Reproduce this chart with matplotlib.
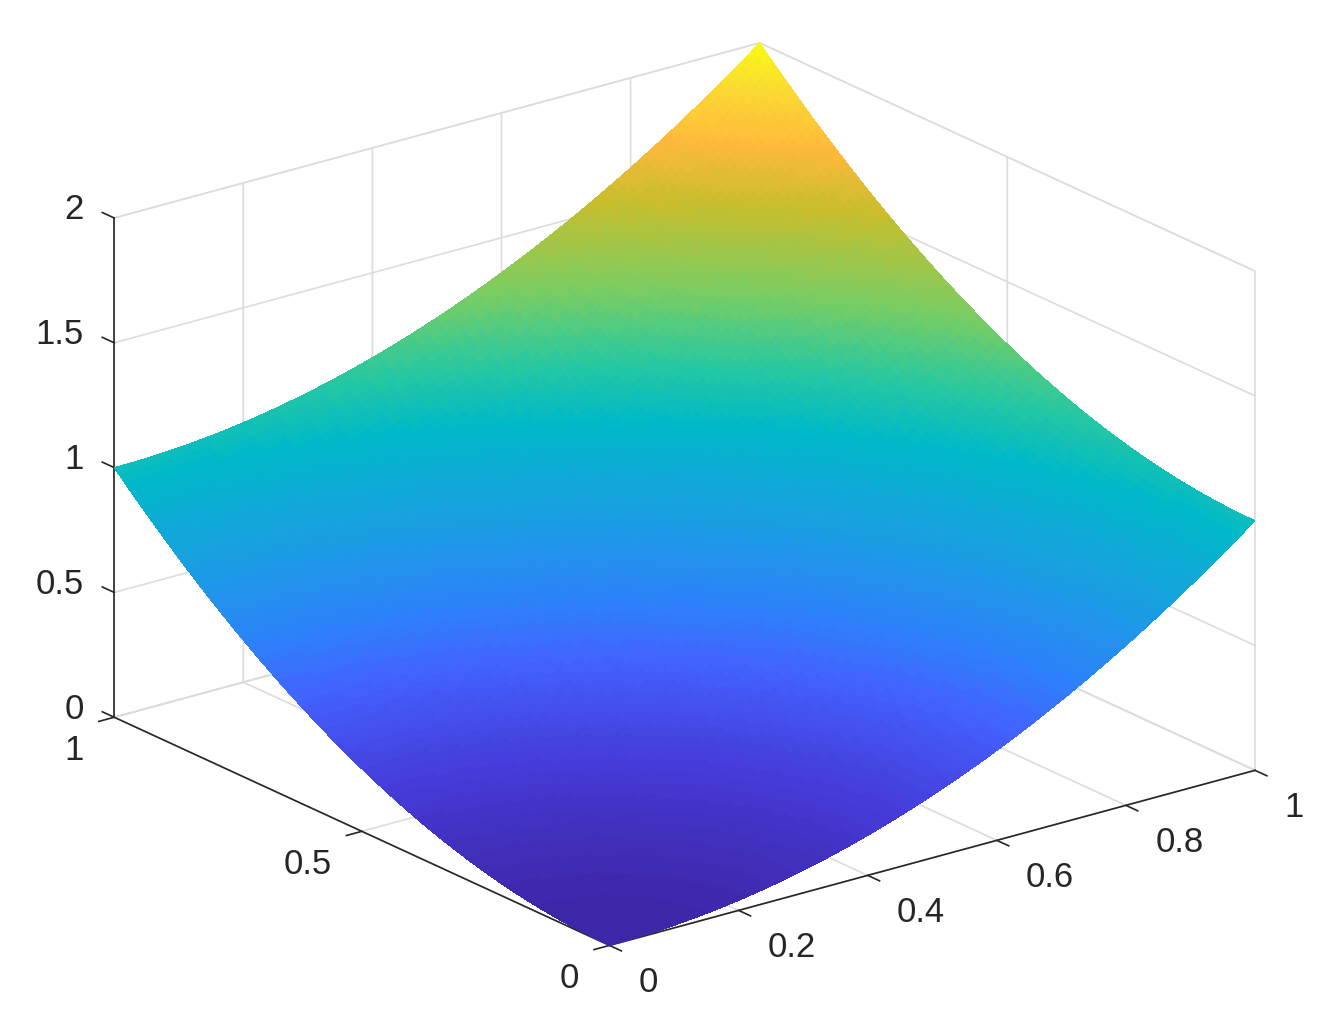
import numpy as np
import matplotlib
matplotlib.use('Agg')
import matplotlib.pyplot as plt
from matplotlib.colors import LinearSegmentedColormap
from matplotlib.transforms import Affine2D

# height of the surface along one edge
edge_height = [0.0000, 0.0001, 0.0004, 0.0009, 0.0016, 0.0025, 0.0036, 0.0049, 0.0064, 0.0081,
               0.0100, 0.0121, 0.0144, 0.0169, 0.0196, 0.0225, 0.0256, 0.0289, 0.0324, 0.0361,
               0.0400, 0.0441, 0.0484, 0.0529, 0.0576, 0.0625, 0.0676, 0.0729, 0.0784, 0.0841,
               0.0900, 0.0961, 0.1024, 0.1089, 0.1156, 0.1225, 0.1296, 0.1369, 0.1444, 0.1521,
               0.1600, 0.1681, 0.1764, 0.1849, 0.1936, 0.2025, 0.2116, 0.2209, 0.2304, 0.2401,
               0.2500, 0.2601, 0.2704, 0.2809, 0.2916, 0.3025, 0.3136, 0.3249, 0.3364, 0.3481,
               0.3600, 0.3721, 0.3844, 0.3969, 0.4096, 0.4225, 0.4356, 0.4489, 0.4624, 0.4761,
               0.4900, 0.5041, 0.5184, 0.5329, 0.5476, 0.5625, 0.5776, 0.5929, 0.6084, 0.6241,
               0.6400, 0.6561, 0.6724, 0.6889, 0.7056, 0.7225, 0.7396, 0.7569, 0.7744, 0.7921,
               0.8100, 0.8281, 0.8464, 0.8649, 0.8836, 0.9025, 0.9216, 0.9409, 0.9604, 0.9801,
               1.0000]
x_ticks = [0, 0.2, 0.4, 0.6, 0.8, 1]
y_ticks = [0, 0.5, 1]
z_ticks = [0, 0.5, 1, 1.5, 2]
x_labels = ['0', '0.2', '0.4', '0.6', '0.8', '1']
y_labels = ['0', '0.5', '1']
z_labels = ['0', '0.5', '1', '1.5', '2']
cmap_stops = [0, 0.1, 0.2, 0.26, 0.364, 0.475, 0.55, 0.643, 0.766, 0.85, 0.93, 1]
cmap_colors = ['#3e26a8', '#463cdc', '#4264ff', '#2d82fa', '#19a0e1', '#00b9c8',
               '#28c8a0', '#78cd64', '#c8be2d', '#ffb93c', '#fadc32', '#f9fb14']

plt.rcParams['font.family'] = ['Liberation Sans', 'DejaVu Sans']
dark = '#262626'
grid = '#dcdcdc'

grid_x = np.linspace(0, 1, len(edge_height))
X, Y = np.meshgrid(grid_x, grid_x)
Z = np.add.outer(edge_height, edge_height)

cmap = LinearSegmentedColormap.from_list('bright_parula', list(zip(cmap_stops, cmap_colors)), N=96)

fig = plt.figure(figsize=(13.27, 10.21), dpi=100)
ax = fig.add_axes([0.0055, 0.0025, 1, 1], projection='3d', proj_type='ortho')
ax.view_init(elev=20.7, azim=-127.5)
ax.set_box_aspect((1, 1, 0.656), zoom=1.206)

surf = ax.plot_surface(X, Y, Z, facecolors=cmap(Z / 2), shade=False, rstride=1, cstride=1,
                       linewidth=0, antialiased=False)
surf.set_clip_on(False)

ax.set_xlim(0, 1)
ax.set_ylim(0, 1)
ax.set_zlim(0, 2)
ax.set_xticks(x_ticks, x_labels)
ax.set_yticks(y_ticks, y_labels)
ax.set_zticks(z_ticks, z_labels)
ax.zaxis.set_ticks_position('upper')
# z ticks run along y in the reference
ax.zaxis._get_tickdir = lambda pos: 1

for axis, out in ((ax.xaxis, -0.3), (ax.yaxis, -0.3), (ax.zaxis, 0.3)):
    axis.set_pane_color((1, 1, 1, 1))
    axis.pane.set_edgecolor(grid)
    axis.line.set_color(dark)
    axis.line.set_linewidth(1.2)
    axis._axinfo['grid'].update(color=grid, linewidth=1.2)
    axis._axinfo['tick'].update(inward_factor=0, outward_factor=out, linewidth={True: 1.2, False: 1.0})
ax.tick_params(labelsize=25, labelcolor=dark, color=dark, pad=10)


def nudge(label, ha, dx, dy):
    # mplot3d resets tick label transforms while drawing, so pin the offset here
    offset = Affine2D().translate(dx, dy)
    label.set_ha(ha)
    label.get_transform = lambda: ax.transData + offset


for axis, ha, dx, dy in ((ax.xaxis, 'left', 6, 14), (ax.yaxis, 'right', 0, 15), (ax.zaxis, 'right', 23, 22)):
    for label in axis.get_ticklabels():
        nudge(label, ha, dx, dy)

fig.savefig('out.png', dpi=100, facecolor='white')
